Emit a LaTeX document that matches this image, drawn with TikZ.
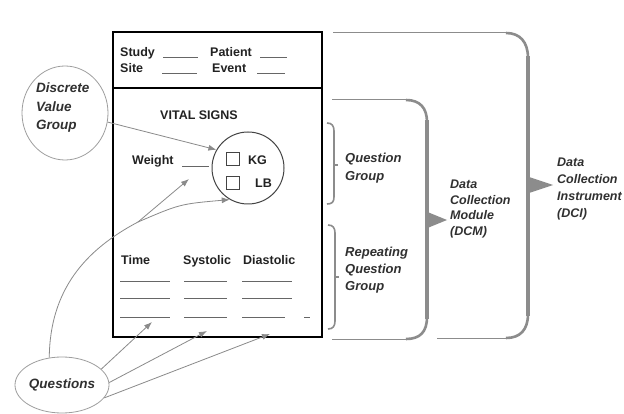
\documentclass[tikz,border=0pt]{standalone}
\usepackage{fontspec}
\setmainfont{Liberation Sans}
\usetikzlibrary{shapes.geometric,arrows.meta}
\definecolor{txtc}{HTML}{222222}
\definecolor{lblc}{HTML}{303030}
\definecolor{linec}{HTML}{8A8A8A}
\definecolor{bubc}{HTML}{9E9E9E}
\definecolor{bracec}{HTML}{8C8C8C}
\definecolor{ulc}{HTML}{666666}
\definecolor{boxc}{HTML}{444444}
\begin{document}
\begin{tikzpicture}[x=1pt,y=-1pt,
  formtxt/.style={font=\fontsize{12.5}{15}\selectfont\bfseries, text=txtc, inner sep=0, anchor=base west},
  lbl/.style={font=\fontsize{12.5}{17}\selectfont\bfseries\itshape, text=lblc, inner sep=0, align=left, anchor=west},
  conn/.style={draw=linec, line width=0.8pt, -{Latex[length=8pt,width=6pt]}},
  plainconn/.style={draw=linec, line width=0.8pt},
  uline/.style={draw=ulc, line width=0.9pt},
  bub/.style={ellipse, draw=bubc, line width=0.8pt, inner sep=0},
  bracethin/.style={draw=bracec, line width=1pt},
  bracecorner/.style={draw=bracec, line width=2.6pt},
  bracethick/.style={draw=bracec, line width=4.5pt},
  bracesmall/.style={draw=bracec, line width=1.6pt},
]
\useasboundingbox (0,0) rectangle (624,414);
\fill[white] (0,0) rectangle (624,414);

% form
\node[draw=black, line width=2.5pt, minimum width=209pt, minimum height=305pt, inner sep=0] (form) at (217.5,184.5) {};
\draw[line width=2.5pt] (113,88) -- (322,88);

\node[formtxt] (study) at (120,56.5) {Study};
\node[formtxt] (patient) at (210,56.5) {Patient};
\node[formtxt] (site) at (120,72.5) {Site};
\node[formtxt] (event) at (212,72.5) {Event};
\draw[uline] (163,57) -- (198,57);
\draw[uline] (260,57) -- (287,57);
\draw[uline] (162,73) -- (197,73);
\draw[uline] (257,73) -- (285,73);

\node[formtxt, anchor=base] (vital) at (199,119.5) {VITAL SIGNS};
\node[formtxt] (weight) at (132,164.5) {Weight};
\draw[uline] (182,166) -- (209,166);
\node[circle, draw=boxc, line width=1pt, minimum size=72pt, inner sep=0] (unit) at (248,168) {};
\node[draw=boxc, line width=0.9pt, minimum size=13pt, inner sep=0] (kgbox) at (232.5,158.5) {};
\node[draw=boxc, line width=0.9pt, minimum size=13pt, inner sep=0] (lbbox) at (232.5,182.5) {};
\node[formtxt] (kg) at (248,164.5) {KG};
\node[formtxt] (lb) at (255,187.5) {LB};

\node[formtxt] (time) at (121,264.5) {Time};
\node[formtxt] (sys) at (183,264.5) {Systolic};
\node[formtxt] (dia) at (243,264.5) {Diastolic};
\foreach \yy in {281,298,317}{
  \draw[uline] (120,\yy) -- (170,\yy);
  \draw[uline] (184,\yy) -- (227,\yy);
}
\draw[uline] (242,281) -- (292,281);
\draw[uline] (242,298) -- (292,298);
\draw[uline] (242,317) -- (285,317);
\draw[uline] (304,317) -- (310,317);

% bubbles
\node[bub, minimum width=86pt, minimum height=94pt] (dvg) at (65,113) {};
\node[lbl, font=\fontsize{13.5}{18.5}\selectfont\bfseries\itshape] (dvgt) at (36,108) {Discrete\\Value\\Group};
\node[bub, minimum width=94pt, minimum height=56pt, font=\fontsize{13.5}{15}\selectfont\bfseries\itshape, text=lblc] (qs) at (62,385) {Questions};

% connectors
\draw[conn] (dvg.-12) -- (unit.150);
\coordinate (split) at (138,222);
\coordinate (wq) at (189,179);
\coordinate (tq) at (152,322);
\coordinate (sq) at (207,331);
\coordinate (dq) at (270,334);
\draw[plainconn] (qs.115) .. controls (50,290) and (85,250) .. (split);
\draw[conn] (split) -- (wq);
\draw[conn] (split) .. controls (180,204) .. (unit.240);
\draw[conn] (qs.22) -- (tq);
\draw[conn] (qs.3) -- (sq);
\draw[conn] (qs.-17) -- (dq);

% small brackets
\draw[bracesmall] (327,123) .. controls (332,123) and (334,126) .. (334,131) -- (334,197) .. controls (334,202) and (332,204) .. (327,204);
\draw[bracesmall] (334,165) -- (338,165);
\draw[bracesmall] (328,225) .. controls (333,225) and (335,228) .. (335,233) -- (335,321) .. controls (335,326) and (333,329) .. (328,329);
\draw[bracesmall] (335,277) -- (339,277);

% DCM brace
\draw[bracethin] (332,100) -- (406,100);
\draw[bracecorner] (406,100) .. controls (420,100) and (427,108) .. (427,122);
\draw[bracethick] (427,120) -- (427,319);
\draw[bracecorner] (427,317) .. controls (427,332) and (420,339) .. (406,339);
\draw[bracethin] (406,339) -- (332,339);
\fill[bracec] (425,211) -- (447,220) -- (425,229) -- cycle;

% DCI brace
\draw[bracethin] (333,33) -- (506,33);
\draw[bracecorner] (506,33) .. controls (520,33) and (528,42) .. (528,58);
\draw[bracethick] (528,56) -- (528,316);
\draw[bracecorner] (528,314) .. controls (528,330) and (520,338) .. (506,338);
\draw[bracethin] (506,338) -- (437,338);
\fill[bracec] (526,176) -- (553,185) -- (526,194) -- cycle;

% labels
\node[lbl, font=\fontsize{13}{18.5}\selectfont\bfseries\itshape] (qg) at (345,168) {Question\\Group};
\node[lbl, font=\fontsize{13}{17}\selectfont\bfseries\itshape] (rqg) at (345,270) {Repeating\\Question\\Group};
\node[lbl, font=\fontsize{12.5}{15.7}\selectfont\bfseries\itshape] (dcm) at (450,209) {Data\\Collection\\Module\\(DCM)};
\node[lbl, font=\fontsize{12.5}{16.7}\selectfont\bfseries\itshape] (dci) at (557,189) {Data\\Collection\\Instrument\\(DCI)};
\end{tikzpicture}
\end{document}
